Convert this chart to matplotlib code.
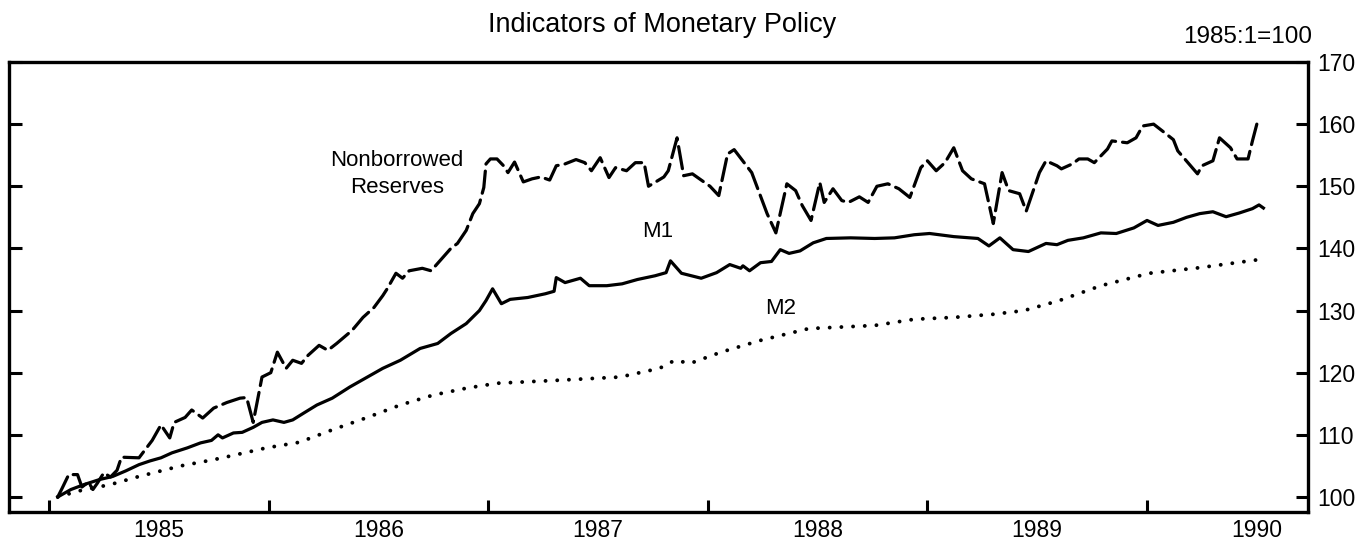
import matplotlib
matplotlib.use('Agg')
import matplotlib.pyplot as plt
from matplotlib.ticker import FixedLocator, NullFormatter, FixedFormatter

plt.rcParams['font.family'] = ['Liberation Sans', 'DejaVu Sans']

# index levels, 1985:1 = 100 (dates as decimal years)
nbr_dates = [1985.04, 1985.06, 1985.09, 1985.13, 1985.15, 1985.18, 1985.20, 1985.22,
             1985.25, 1985.28, 1985.31, 1985.33, 1985.41, 1985.47, 1985.51, 1985.55,
             1985.57, 1985.62, 1985.65, 1985.70, 1985.75, 1985.81, 1985.87, 1985.90,
             1985.93, 1985.97, 1986.01, 1986.04, 1986.08, 1986.11, 1986.15, 1986.18,
             1986.23, 1986.27, 1986.31, 1986.38, 1986.43, 1986.48, 1986.52, 1986.54,
             1986.58, 1986.61, 1986.64, 1986.70, 1986.74, 1986.78, 1986.83, 1986.86,
             1986.90, 1986.93, 1986.96, 1986.98, 1986.99, 1987.01, 1987.04, 1987.07,
             1987.09, 1987.12, 1987.16, 1987.20, 1987.24, 1987.28, 1987.31, 1987.35,
             1987.40, 1987.44, 1987.47, 1987.51, 1987.55, 1987.58, 1987.63, 1987.67,
             1987.71, 1987.73, 1987.80, 1987.82, 1987.86, 1987.89, 1987.93, 1988.01,
             1988.05, 1988.09, 1988.12, 1988.20, 1988.27, 1988.31, 1988.36, 1988.40,
             1988.43, 1988.47, 1988.51, 1988.53, 1988.57, 1988.61, 1988.64, 1988.69,
             1988.73, 1988.77, 1988.82, 1988.87, 1988.92, 1988.97, 1989.00, 1989.04,
             1989.08, 1989.12, 1989.16, 1989.20, 1989.26, 1989.30, 1989.34, 1989.37,
             1989.42, 1989.45, 1989.51, 1989.54, 1989.59, 1989.61, 1989.66, 1989.69,
             1989.73, 1989.76, 1989.82, 1989.84, 1989.91, 1989.95, 1989.98, 1990.03,
             1990.07, 1990.12, 1990.14, 1990.23, 1990.25, 1990.30, 1990.33, 1990.38,
             1990.41, 1990.46, 1990.48, 1990.50]
nbr_vals = [100.0, 101.4, 103.6, 103.6, 101.6, 102.4, 101.2, 102.2,
            103.9, 103.2, 104.3, 106.4, 106.3, 109.1, 111.6, 109.5,
            112.0, 112.8, 114.0, 112.7, 114.3, 115.2, 115.9, 116.0,
            112.0, 119.3, 120.0, 123.3, 120.7, 122.0, 121.5, 122.8,
            124.4, 123.6, 124.7, 126.8, 128.9, 130.5, 132.4, 133.5,
            136.0, 135.2, 136.4, 136.8, 136.4, 138.0, 140.0, 140.8,
            142.9, 145.6, 147.2, 149.8, 153.6, 154.4, 154.4, 153.3,
            152.2, 153.9, 150.7, 151.2, 151.5, 151.0, 153.3, 153.6,
            154.3, 153.8, 152.5, 154.6, 151.4, 153.0, 152.5, 153.8,
            153.8, 150.0, 151.5, 152.5, 157.8, 151.7, 152.0, 150.0,
            148.5, 155.2, 155.9, 152.2, 145.6, 142.5, 150.4, 149.3,
            146.9, 144.5, 150.6, 147.4, 149.6, 147.7, 147.4, 148.3,
            147.4, 150.0, 150.4, 149.6, 148.2, 153.0, 154.1, 152.5,
            153.8, 156.2, 152.5, 151.2, 150.4, 144.0, 152.2, 149.3,
            148.8, 146.0, 152.2, 154.1, 153.3, 152.8, 153.6, 154.4,
            154.4, 153.8, 156.0, 157.3, 157.0, 157.8, 159.7, 160.0,
            158.9, 157.5, 155.7, 152.0, 153.3, 154.1, 157.8, 156.2,
            154.4, 154.4, 157.3, 160.0]

m1_dates = [1985.04, 1985.10, 1985.16, 1985.23, 1985.29, 1985.35, 1985.41, 1985.46,
            1985.51, 1985.56, 1985.63, 1985.69, 1985.74, 1985.77, 1985.79, 1985.84,
            1985.88, 1985.93, 1985.97, 1986.02, 1986.07, 1986.11, 1986.16, 1986.22,
            1986.29, 1986.37, 1986.45, 1986.52, 1986.60, 1986.69, 1986.77, 1986.83,
            1986.90, 1986.96, 1986.99, 1987.02, 1987.06, 1987.10, 1987.18, 1987.26,
            1987.30, 1987.31, 1987.35, 1987.42, 1987.46, 1987.54, 1987.61, 1987.68,
            1987.76, 1987.81, 1987.83, 1987.88, 1987.97, 1988.04, 1988.10, 1988.15,
            1988.16, 1988.19, 1988.24, 1988.29, 1988.33, 1988.37, 1988.42, 1988.48,
            1988.54, 1988.65, 1988.76, 1988.85, 1988.94, 1989.01, 1989.12, 1989.23,
            1989.28, 1989.33, 1989.39, 1989.46, 1989.54, 1989.59, 1989.64, 1989.71,
            1989.79, 1989.86, 1989.94, 1990.00, 1990.05, 1990.12, 1990.18, 1990.24,
            1990.30, 1990.36, 1990.42, 1990.48, 1990.51, 1990.53]
m1_vals = [100.0, 101.2, 102.0, 102.8, 103.3, 104.2, 105.2, 105.8,
           106.3, 107.1, 107.9, 108.7, 109.1, 110.0, 109.5, 110.3,
           110.4, 111.2, 112.0, 112.4, 112.0, 112.4, 113.5, 114.8,
           115.9, 117.7, 119.3, 120.7, 122.0, 123.9, 124.7, 126.3,
           127.9, 130.0, 131.6, 133.5, 131.1, 131.8, 132.1, 132.7,
           133.1, 135.3, 134.5, 135.2, 134.0, 134.0, 134.3, 135.0,
           135.6, 136.1, 138.0, 136.0, 135.2, 136.1, 137.4, 136.8,
           137.2, 136.4, 137.7, 137.9, 139.8, 139.2, 139.6, 140.9,
           141.6, 141.7, 141.6, 141.7, 142.2, 142.4, 141.9, 141.6,
           140.4, 141.7, 139.8, 139.5, 140.8, 140.6, 141.3, 141.7,
           142.5, 142.4, 143.3, 144.5, 143.7, 144.2, 145.0, 145.6,
           145.9, 145.1, 145.7, 146.4, 147.0, 146.5]

m2_dates = [1985.04, 1985.14, 1985.28, 1985.41, 1985.60, 1985.75, 1985.84, 1985.99,
            1986.14, 1986.29, 1986.45, 1986.60, 1986.75, 1986.90, 1987.04, 1987.33,
            1987.60, 1987.78, 1987.85, 1987.92, 1988.06, 1988.24, 1988.46, 1988.58,
            1988.76, 1988.94, 1989.12, 1989.30, 1989.44, 1989.55, 1989.60, 1989.79,
            1990.01, 1990.24, 1990.51]
m2_vals = [100.0, 101.0, 102.0, 103.3, 105.0, 106.0, 106.7, 107.9,
           108.8, 110.8, 112.8, 114.8, 116.4, 117.5, 118.3, 118.8,
           119.3, 120.7, 122.0, 121.5, 123.3, 125.2, 127.1, 127.3,
           127.6, 128.6, 128.9, 129.4, 130.0, 131.1, 131.6, 134.0,
           136.0, 136.9, 138.2]

year_ticks = [1985, 1986, 1987, 1988, 1989, 1990]
year_labels = ['1985', '1986', '1987', '1988', '1989', '1990']
y_ticks = [100, 110, 120, 130, 140, 150, 160, 170]

fig = plt.figure(figsize=(13.6, 5.43), dpi=100)
ax = fig.add_axes([9 / 1360, 31 / 543, 1299 / 1360, 450 / 543])

ax.plot(nbr_dates, nbr_vals, color='black', lw=2.3, dashes=(7, 2.2),
        solid_capstyle='round', dash_capstyle='round', solid_joinstyle='round')
ax.plot(m1_dates, m1_vals, color='black', lw=2.3, solid_joinstyle='round')
ax.plot(m2_dates, m2_vals, color='black', lw=2.8, linestyle=(0, (0.01, 3.0)),
        dash_capstyle='round')

ax.set_xlim(1984.818, 1990.733)
ax.set_ylim(97.58, 170)

# year boundaries get ticks, labels sit mid-year
ax.xaxis.set_major_locator(FixedLocator(year_ticks))
ax.xaxis.set_major_formatter(NullFormatter())
ax.xaxis.set_minor_locator(FixedLocator([y + 0.5 for y in year_ticks]))
ax.xaxis.set_minor_formatter(FixedFormatter(year_labels))
ax.tick_params(axis='x', which='major', direction='in', length=9, width=2.2)
ax.tick_params(axis='x', which='minor', length=0, pad=5, labelsize=16.5)

ax.set_yticks(y_ticks)
ax.yaxis.tick_right()
ax.tick_params(axis='y', which='major', direction='in', length=9, width=2.2,
               left=True, right=True, labelleft=False, labelright=True,
               pad=7, labelsize=16.5)

for s in ax.spines.values():
    s.set_linewidth(2.4)

ax.text(1986.585, 154.2, 'Nonborrowed', ha='center', va='center', fontsize=16)
ax.text(1986.585, 149.8, 'Reserves', ha='center', va='center', fontsize=16)
ax.text(1987.77, 142.7, 'M1', ha='center', va='center', fontsize=16)
ax.text(1988.33, 130.4, 'M2', ha='center', va='center', fontsize=16)

fig.text(662 / 1360, 1 - 25 / 543, 'Indicators of Monetary Policy',
         ha='center', va='center', fontsize=19.5)
fig.text(1248 / 1360, 1 - 37 / 543, '1985:1=100', ha='center', va='center',
         fontsize=17.5)

fig.savefig('out.png', dpi=100)
